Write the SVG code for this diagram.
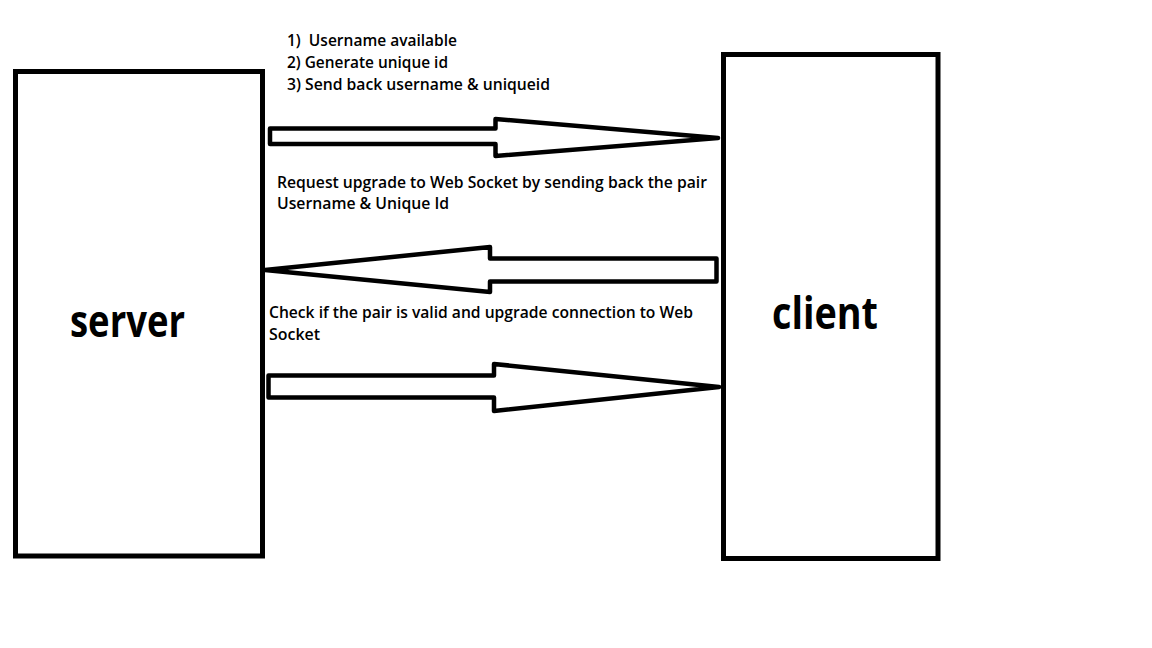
<svg xmlns="http://www.w3.org/2000/svg" width="1152" height="648" viewBox="0 0 1152 648">
<style>
.box{fill:#fff;stroke:#000;stroke-width:5}
.arrow{fill:#fff;stroke:#000;stroke-width:4.5;stroke-linejoin:round}
.lbl{font-family:"Open Sans","Liberation Sans",sans-serif;font-size:16px;font-weight:600;fill:#000;white-space:pre}
.big{font-family:"Open Sans","Liberation Sans",sans-serif;font-size:44px;font-weight:bold;fill:#000}
</style>
<rect width="1152" height="648" fill="#fff"/>
<g id="server">
<rect class="box" x="15.5" y="71.5" width="247" height="484.5"/>
<text class="big" x="70" y="336.5" textLength="115" lengthAdjust="spacingAndGlyphs">server</text>
</g>
<g id="client">
<rect class="box" x="723.5" y="54.5" width="214.5" height="504"/>
<text class="big" x="772" y="329" textLength="106" lengthAdjust="spacingAndGlyphs">client</text>
</g>
<g id="connectors">
<polygon class="arrow" points="270,128.5 495.5,128.5 495.5,119 718,138 495.5,156 495.5,144 270,144"/>
<polygon class="arrow" points="716.5,258.5 490,258.5 490,247 265,270 490,292 490,281.5 716.5,281.5"/>
<polygon class="arrow" points="268.5,375.5 494,375.5 494,364 719,387 494,411 494,397.5 268.5,397.5"/>
</g>
<g id="labels">
<text class="lbl" x="287" y="46" textLength="170" lengthAdjust="spacingAndGlyphs" xml:space="preserve">1)  Username available</text>
<text class="lbl" x="287" y="68" textLength="161" lengthAdjust="spacingAndGlyphs">2) Generate unique id</text>
<text class="lbl" x="287" y="90" textLength="263" lengthAdjust="spacingAndGlyphs">3) Send back username &amp; uniqueid</text>
<text class="lbl" x="277" y="188" textLength="430" lengthAdjust="spacingAndGlyphs">Request upgrade to Web Socket by sending back the pair</text>
<text class="lbl" x="277" y="209" textLength="172" lengthAdjust="spacingAndGlyphs">Username &amp; Unique Id</text>
<text class="lbl" x="269" y="318" textLength="424" lengthAdjust="spacingAndGlyphs">Check if the pair is valid and upgrade connection to Web</text>
<text class="lbl" x="269" y="340" textLength="51" lengthAdjust="spacingAndGlyphs">Socket</text>
</g>
</svg>
